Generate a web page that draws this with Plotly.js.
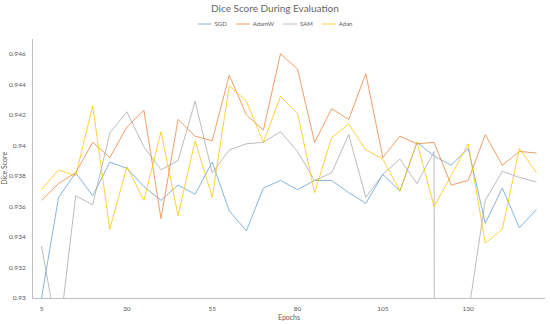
<!DOCTYPE html>
<html>
<head>
<meta charset="utf-8">
<script src="https://cdn.plot.ly/plotly-3.0.1.min.js"></script>
<style>
  html, body { margin: 0; padding: 0; background: #ffffff; }
  #chart { width: 550px; height: 324px; }
</style>
</head>
<body>
<div id="chart"></div>
<script>
// ---- data ----
const epochs = [5, 10, 15, 20, 25, 30, 35, 40, 45, 50, 55, 60, 65, 70, 75,
                80, 85, 90, 95, 100, 105, 110, 115, 120, 125, 130, 135, 140, 145, 150];

const sgd   = [0.9300, 0.9366, 0.9382, 0.9367, 0.9389, 0.9385, 0.9373, 0.9364, 0.9374, 0.9368,
               0.9389, 0.9357, 0.9344, 0.9372, 0.9377, 0.9371, 0.9377, 0.9377, 0.9369, 0.9362,
               0.9381, 0.9370, 0.9402, 0.9393, 0.9387, 0.9398, 0.9349, 0.9372, 0.9346, 0.9358];

const adamw = [0.9364, 0.9375, 0.9382, 0.9402, 0.9392, 0.9412, 0.9423, 0.9352, 0.9417, 0.9406,
               0.9403, 0.9446, 0.9420, 0.9410, 0.9460, 0.9450, 0.9402, 0.9424, 0.9417, 0.9447,
               0.9392, 0.9406, 0.9401, 0.9402, 0.9374, 0.9377, 0.9407, 0.9387, 0.9396, 0.9395];

const sam   = [0.9334, 0.9272, 0.9367, 0.9361, 0.9408, 0.9422, 0.9399, 0.9384, 0.9390, 0.9429,
               0.9382, 0.9397, 0.9401, 0.9402, 0.9409, 0.9396, 0.9377, 0.9382, 0.9407, 0.9366,
               0.9381, 0.9391, 0.9375, 0.9396, 0.0000, 0.9289, 0.9364, 0.9383, 0.9379, 0.9376];

const adan  = [0.9371, 0.9384, 0.9380, 0.9426, 0.9345, 0.9386, 0.9364, 0.9409, 0.9354, 0.9403,
               0.9366, 0.9439, 0.9429, 0.9402, 0.9432, 0.9421, 0.9369, 0.9405, 0.9414, 0.9397,
               0.9391, 0.9370, 0.9402, 0.9360, 0.9380, 0.9401, 0.9336, 0.9345, 0.9398, 0.9382];

const seriesNames = ["SGD", "AdamW", "SAM", "Adan"];
const xTickVals = [5, 30, 55, 80, 105, 130];
const xTickText = ["5", "30", "55", "80", "105", "130"];
const yTickVals = [0.930, 0.932, 0.934, 0.936, 0.938, 0.940, 0.942, 0.944, 0.946];
const yTickText = ["0.93", "0.932", "0.934", "0.936", "0.938", "0.94", "0.942", "0.944", "0.946"];

// ---- styling ----
const colors = ["#5B9BD5", "#ED7D31", "#A5A5A5", "#FFC000"];
const font = "Lato, 'Liberation Sans', sans-serif";
const txt = "#595959";

const allY = [sgd, adamw, sam, adan];
const traces = allY.map((ys, i) => ({
  type: "scatter",
  mode: "lines",
  name: seriesNames[i],
  x: epochs,
  y: ys,
  line: { color: colors[i], width: 1 },
  opacity: 0.75
}));

const layout = {
  width: 550,
  height: 324,
  margin: { l: 33, r: 5, t: 38, b: 26, pad: 0 },
  paper_bgcolor: "#ffffff",
  plot_bgcolor: "#ffffff",
  font: { family: font, size: 7, color: txt },
  title: {
    text: "Dice Score During Evaluation",
    font: { family: font, size: 10, color: "#666666" },
    x: 0.5, xref: "container", xanchor: "center",
    y: 1 - 8 / 324, yref: "container", yanchor: "middle"
  },
  showlegend: true,
  legend: {
    orientation: "h",
    xref: "container", x: 0.5, xanchor: "center",
    yref: "container", y: 1 - 24 / 324, yanchor: "middle",
    font: { family: font, size: 6, color: txt },
    itemwidth: 30,
    tracegroupgap: 0,
    bgcolor: "rgba(0,0,0,0)"
  },
  xaxis: {
    range: [2.5, 152.5],
    tickmode: "array",
    tickvals: xTickVals,
    ticktext: xTickText,
    showgrid: false,
    zeroline: false,
    showline: true,
    linecolor: "#BFBFBF",
    linewidth: 1,
    ticks: "",
    ticklabelstandoff: 4,
    tickfont: { family: font, size: 6.5, color: txt },
    title: { text: "Epochs", font: { family: font, size: 7, color: txt }, standoff: 4 },
    automargin: false,
    fixedrange: true
  },
  yaxis: {
    range: [0.93, 0.947],
    tickmode: "array",
    tickvals: yTickVals,
    ticktext: yTickText,
    showgrid: false,
    zeroline: false,
    showline: true,
    linecolor: "#BFBFBF",
    linewidth: 1,
    ticks: "",
    ticklabelstandoff: 5,
    tickfont: { family: font, size: 6.5, color: txt },
    title: { text: "Dice Score", font: { family: font, size: 7, color: txt }, standoff: 4 },
    automargin: false,
    fixedrange: true
  }
};

// Compact the legend items (short line samples like the reference)
function compactLegend(gd) {
  const legend = gd.querySelector("g.legend");
  if (!legend) return;
  const items = legend.querySelectorAll("g.traces");
  const lineLen = 14, textGap = 3, itemGap = 9;
  let x = 0, y0 = null;
  items.forEach(it => {
    const m = /translate\(\s*([-\d.]+)[ ,]+([-\d.]+)\s*\)/.exec(it.getAttribute("transform") || "");
    const ty = m ? parseFloat(m[2]) : 0;
    if (y0 === null) y0 = ty;
    it.querySelectorAll("path.js-line").forEach(p => p.setAttribute("d", "M0,0h" + lineLen));
    const t = it.querySelector("text.legendtext");
    let tw = 0;
    if (t) {
      t.setAttribute("x", lineLen + textGap);
      tw = t.getComputedTextLength ? t.getComputedTextLength() : 0;
    }
    it.setAttribute("transform", "translate(" + x + "," + y0 + ")");
    x += lineLen + textGap + tw + itemGap;
  });
  const total = x - itemGap;
  const lm = /translate\(\s*([-\d.]+)[ ,]+([-\d.]+)\s*\)/.exec(legend.getAttribute("transform") || "");
  const ly = lm ? parseFloat(lm[2]) : 0;
  legend.setAttribute("transform", "translate(" + (275 - total / 2) + "," + ly + ")");
  const bg = legend.querySelector("rect.bg");
  if (bg) bg.setAttribute("width", total);
}

Plotly.newPlot("chart", traces, layout, { displayModeBar: false, staticPlot: true })
  .then(gd => compactLegend(gd));
</script>
</body>
</html>
